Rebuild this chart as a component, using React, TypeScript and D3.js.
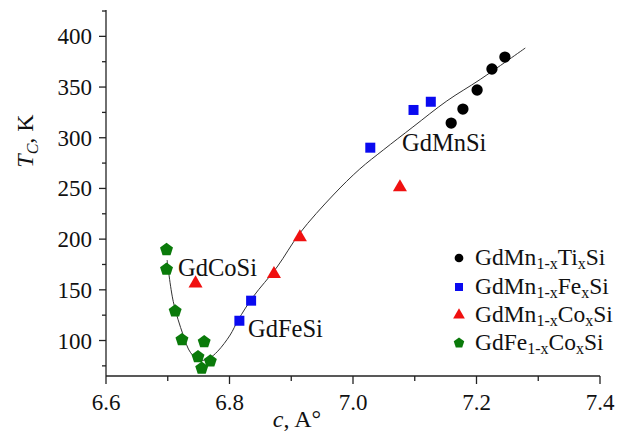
import React from 'react';
import * as d3 from 'd3';

// GdMn(1-x)Ti(x)Si
const tiC = [7.159, 7.178, 7.201, 7.225, 7.246];
const tiT = [314.5, 328.3, 347.1, 367.8, 379.6];
// GdMn(1-x)Fe(x)Si
const feC = [6.816, 6.835, 7.028, 7.098, 7.126];
const feT = [119.5, 139.3, 290.2, 327.4, 335.5];
// GdMn(1-x)Co(x)Si
const coC = [6.745, 6.872, 6.914, 7.076];
const coT = [156.4, 165.6, 201.8, 251.1];
// GdFe(1-x)Co(x)Si
const feCoC = [6.698, 6.698, 6.712, 6.723, 6.759, 6.749, 6.769, 6.755];
const feCoT = [189.6, 170.2, 129.1, 100.8, 98.8, 84, 79.8, 72.6];

// guide line through the series
const lineC = [6.699, 6.709, 6.725, 6.737, 6.752, 6.767, 6.781, 6.801, 6.814, 6.838, 6.877, 6.914, 6.968, 7.011, 7.049, 7.097, 7.152, 7.206, 7.279];
const lineT = [179.4, 138.3, 105.4, 88, 80.5, 82.5, 89.5, 105.4, 120.2, 142.9, 172.5, 206, 243.5, 269.2, 287.9, 310.6, 336.3, 357.5, 388.5];

const xMajor = [6.6, 6.8, 7.0, 7.2, 7.4];
const xMinor = [6.7, 6.9, 7.1, 7.3];
const yMajor = [100, 150, 200, 250, 300, 350, 400];
const yMinor = [75, 125, 175, 225, 275, 325, 375, 425];

const W = 623;
const H = 431;
const FONT = 'Liberation Serif, Times New Roman, serif';

const x = d3.scaleLinear().domain([6.6, 7.4]).range([106, 600]);
const y = d3.scaleLinear().domain([65, 426]).range([376, 10]);

const series = [
  { cs: tiC, ts: tiT, type: d3.symbolCircle, size: 100, legend: 60, color: '#000000', name: ['GdMn', '1-x', 'Ti', 'x', 'Si'] },
  { cs: feC, ts: feT, type: d3.symbolSquare, size: 100, legend: 64, color: '#0a0af0', name: ['GdMn', '1-x', 'Fe', 'x', 'Si'] },
  { cs: coC, ts: coT, type: d3.symbolTriangle, size: 85, legend: 60, color: '#f01010', name: ['GdMn', '1-x', 'Co', 'x', 'Si'] },
  { cs: feCoC, ts: feCoT, type: 'pentagon', size: 0, legend: 0, color: '#0a7a0a', name: ['GdFe', '1-x', 'Co', 'x', 'Si'] },
];

// regular pentagon, point up
const pentagon = (r: number) => {
  const pts = d3.range(5).map(i => {
    const a = -Math.PI / 2 + (i * 2 * Math.PI) / 5;
    return [r * Math.cos(a), r * Math.sin(a)];
  });
  return 'M' + pts.map(p => p.join(',')).join('L') + 'Z';
};

const markPath = (s: any, legend: boolean) => {
  if (s.type === 'pentagon') return pentagon(legend ? 5.5 : 6.8);
  return d3.symbol().type(s.type).size(legend ? s.legend : s.size)() as string;
};

const App = () => {
  const line = d3.line<number>()
    .x((_, i) => x(lineC[i]))
    .y(d => y(d))
    .curve(d3.curveCatmullRom.alpha(0.5));

  const legendY = [258, 287, 315, 343];

  return (
    <svg width={W} height={H} style={{ position: 'absolute', left: 0, top: 0, background: '#fff', fontFamily: FONT }}>
      {/* axes */}
      <line x1={106} x2={106} y1={10} y2={376} stroke="#222" strokeWidth={1.3} />
      <line x1={106} x2={600} y1={376} y2={376} stroke="#222" strokeWidth={1.3} />
      {yMajor.map(v => (
        <g key={'ym' + v}>
          <line x1={99} x2={106} y1={y(v)} y2={y(v)} stroke="#222" strokeWidth={1.3} />
          <text x={92} y={y(v)} dy="0.35em" textAnchor="end" fontSize={23} fill="#111">{v}</text>
        </g>
      ))}
      {yMinor.map(v => (
        <line key={'yn' + v} x1={102} x2={106} y1={y(v)} y2={y(v)} stroke="#222" strokeWidth={1.3} />
      ))}
      {xMajor.map(v => (
        <g key={'xm' + v}>
          <line x1={x(v)} x2={x(v)} y1={376} y2={384} stroke="#222" strokeWidth={1.3} />
          <text x={x(v)} y={410} textAnchor="middle" fontSize={23} fill="#111">{v.toFixed(1)}</text>
        </g>
      ))}
      {xMinor.map(v => (
        <line key={'xn' + v} x1={x(v)} x2={x(v)} y1={376} y2={381} stroke="#222" strokeWidth={1.3} />
      ))}

      {/* axis titles */}
      <text x={297} y={427} textAnchor="middle" fontSize={24} fill="#111">
        <tspan fontStyle="italic">c</tspan>, A°
      </text>
      <text transform="translate(33,141) rotate(-90)" textAnchor="middle" fontSize={24} fill="#111">
        <tspan fontStyle="italic">T</tspan>
        <tspan fontStyle="italic" fontSize={16} dy={5}>C</tspan>
        <tspan dy={-5}>, K</tspan>
      </text>

      {/* fitted curve */}
      <path d={line(lineT) || ''} fill="none" stroke="#333" strokeWidth={1} />

      {/* data */}
      {series.map((s, si) => (
        <g key={'s' + si}>
          {s.cs.map((c, i) => (
            <path key={i} d={markPath(s, false)} transform={`translate(${x(c)},${y(s.ts[i])})`} fill={s.color} />
          ))}
        </g>
      ))}

      {/* compound labels */}
      <text x={178} y={276} fontSize={24.5} fill="#111">GdCoSi</text>
      <text x={248} y={337} fontSize={24.5} fill="#111">GdFeSi</text>
      <text x={402} y={151} fontSize={24.5} fill="#111">GdMnSi</text>

      {/* legend */}
      {series.map((s, si) => (
        <g key={'l' + si} transform={`translate(459,${legendY[si]})`}>
          <path d={markPath(s, true)} fill={s.color} />
          <text x={16} y={7} fontSize={23.5} fill="#111">
            {s.name[0]}
            <tspan fontSize={16} dy={4}>{s.name[1]}</tspan>
            <tspan dy={-4}>{s.name[2]}</tspan>
            <tspan fontSize={16} dy={4}>{s.name[3]}</tspan>
            <tspan dy={-4}>{s.name[4]}</tspan>
          </text>
        </g>
      ))}
    </svg>
  );
};

export default App;
